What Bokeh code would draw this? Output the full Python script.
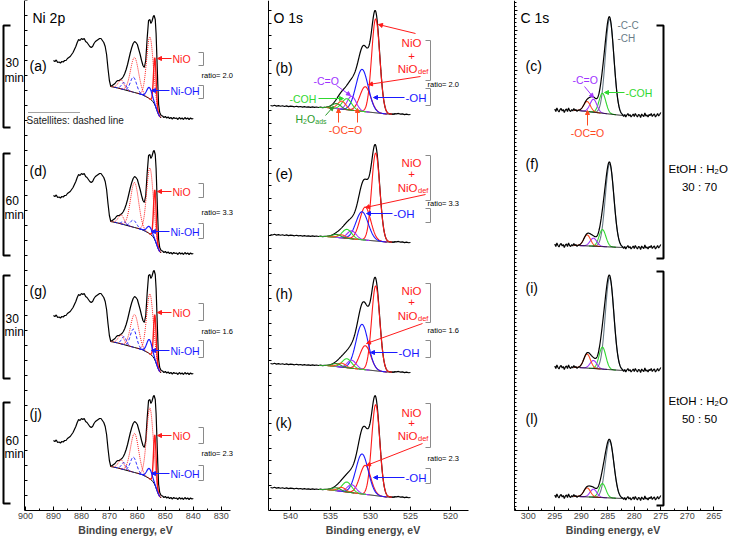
import numpy as np
from bokeh.plotting import figure
from bokeh.layouts import row
from bokeh.models import Range1d, SingleIntervalTicker, Arrow, NormalHead, CustomJSTickFormatter
from bokeh.core.properties import value
from bokeh.embed import file_html
from bokeh.resources import INLINE

FONT = "Liberation Sans"

# ===================== DATA =====================
# ---- Ni 2p: measured spectrum (same shape for a, d, g, j), a.u. above the low-BE baseline
NI_E = [890, 889.5, 889, 888.5, 888, 887.5, 887, 886.5, 886, 885.5,
        885, 884.5, 884, 883.5, 883, 882.5, 882, 881.5, 881, 880.5,
        880, 879.5, 879, 878.5, 878, 877.5, 877, 876.5, 876, 875.5,
        875, 874.5, 874, 873.5, 873, 872.5, 872, 871.5, 871, 870.5,
        870, 869.5, 869, 868.5, 868, 867.5, 867, 866.5, 866, 865.5,
        865, 864.5, 864, 863.5, 863, 862.5, 862, 861.5, 861, 860.5,
        860, 859.5, 859, 858.5, 858, 857.5, 857, 856.5, 856, 855.5,
        855.2, 854.8, 854.3, 854, 853.6, 853.3, 853, 852.7, 852.4, 852,
        851.5, 851, 850.5, 850, 849.5, 849, 848.5, 848, 847.5, 847,
        846.5, 846, 845.5, 845, 844.5, 844, 843.5, 843, 842.5, 842,
        841.5, 841, 840.5, 840]
NI_RAW = [58, 57, 58.5, 56, 56.5, 55.5, 57, 56.5, 58, 58,
          60, 61, 62, 64, 66, 69, 72, 76, 79, 78,
          80, 79, 80, 77, 76, 74, 72, 71, 72, 75,
          77, 78, 79, 80, 80, 78, 76, 72, 64, 50,
          38, 32, 33, 34, 35, 37, 38, 38, 39, 40,
          42, 45, 49, 54, 60, 66, 71, 75, 77, 76,
          74, 69, 64, 58, 53, 51, 58, 80, 98, 99,
          95, 97, 102, 103, 99, 85, 60, 35, 14, 6,
          3, 2.5, 1, 2, 0.5, 1.5, 0, 1, -0.5, 1,
          0, 0.5, -1, 1, -0.5, 0.5, -1, 1, -0.5, 0.5,
          -1, 0.5, -0.5, 0]
NI_BG_E = [869.5, 867, 865, 863, 861, 859, 858, 857, 856, 855, 854.5, 854, 853.5, 853, 852.5, 852, 851.5]
NI_BG = [32, 30.5, 29, 27.5, 26, 24.5, 23.5, 22, 20.5, 18.5, 17, 15, 12, 8, 4.5, 2, 0.5]
NI_OFFSET = [392, 257, 137, 12]            # stacking offsets (a, d, g, j)
# components: NiO, NiO, NiO sat, NiO sat, Ni-OH, Ni-OH sat, Ni-OH sat
NI_CENTERS = [853.75, 855.5, 861.0, 865.8, 855.7, 861.4, 864.8]
NI_FWHM = [1.1, 2.8, 3.4, 2.4, 2.2, 2.6, 2.0]
NI_H_A = [47, 62, 35, 9, 11, 15, 7]
NI_H_D = [50, 66, 45, 9, 7, 7, 3]
NI_H_G = [45, 60, 33, 9, 14, 18, 8]
NI_H_J = [50, 71, 39, 9, 10, 15, 7]
NI_RATIO = ["ratio= 2.0", "ratio= 3.3", "ratio= 1.6", "ratio= 2.3"]
NI_PANEL = ["(a)", "(d)", "(g)", "(j)"]
TIMES = ["30", "60", "30", "60"]

# ---- O 1s
O_NOISE_E = [542.5, 542.25, 542.0, 541.75, 541.5, 541.25, 541.0, 540.75, 540.5, 540.25,
             540.0, 539.75, 539.5, 539.25, 539.0, 538.75, 538.5, 538.25, 538.0, 537.75,
             537.5, 537.25, 537.0, 536.75, 536.5, 536.25, 536.0, 535.75, 535.5]
O_NOISE_L = [2.0, 1.5, 2.2, 1.4, 1.9, 1.2, 1.8, 1.0, 1.6, 0.9,
             1.4, 1.1, 0.7, 1.3, 0.6, 1.0, 0.4, 0.9, 0.3, 0.7,
             0.2, 0.6, 0.1, 0.5, 0.0, 0.4, -0.1, 0.2, 0.0]
O_NOISE_R_E = [527.0, 526.75, 526.5, 526.25, 526.0, 525.75, 525.5, 525.25, 525.0]
O_NOISE_R = [0.6, 0.3, 0.8, 0.2, 0.5, -0.2, 0.3, -0.3, 0.0]
O_OFFSET = [396, 268, 138, 13]             # b, e, h, k
O_BG_LEFT = [7, 6, 7, 8]
# components: NiO, NiO_def, -OH, -C=O, -COH, -OC=O, H2O_ads
O_CENTERS = [529.35, 530.65, 531.05, 532.35, 532.95, 533.6, 534.25]
O_FWHM = [1.2, 1.6, 1.8, 1.3, 1.4, 1.2, 1.3]
O_H_B = [94, 25, 42, 14, 11, 8, 5]
O_H_E = [88, 33, 28, 8, 9, 3, 3]
O_H_H = [85, 24, 45, 8, 9, 4, 3]
O_H_K = [91, 29, 40, 8, 10, 4, 3]
O_RATIO = ["ratio= 2.0", "ratio= 3.3", "ratio= 1.6", "ratio= 2.3"]
O_PANEL = ["(b)", "(e)", "(h)", "(k)"]

# ---- C 1s
C_NOISE_L_E = [295.0, 294.8, 294.6, 294.4, 294.2, 294.0, 293.8, 293.6, 293.4, 293.2,
               293.0, 292.8, 292.6, 292.4, 292.2, 292.0, 291.8, 291.6, 291.4, 291.2,
               291.0, 290.8, 290.6]
C_NOISE_L = [1.5, -1.0, 2.5, 0.0, -1.5, 1.0, 2.0, -0.5, 1.0, -2.0,
             0.5, 1.5, -1.0, 2.5, 0.0, -1.0, 1.0, -0.5, 2.0, 0.0,
             1.0, -1.0, 0.5]
C_NOISE_R_E = [282.2, 282.0, 281.8, 281.6, 281.4, 281.2, 281.0, 280.8, 280.6, 280.4,
               280.2, 280.0, 279.8, 279.6, 279.4, 279.2, 279.0, 278.8, 278.6, 278.4,
               278.2, 278.0, 277.8, 277.6, 277.4, 277.2, 277.0, 276.8, 276.6, 276.4,
               276.2, 276.0, 275.8, 275.6, 275.4, 275.2, 275.0]
C_NOISE_R = [0.5, -1.0, 1.0, -1.5, 0.5, 2.0, -0.5, 1.0, -1.5, 0.0,
             1.5, -1.0, 2.0, 0.0, -1.5, 1.0, 0.5, -2.0, 1.5, 0.0,
             -1.0, 2.5, -0.5, 0.5, -1.5, 1.0, 0.0, 2.0, -1.0, 0.5,
             1.5, -1.5, 0.0, 2.0, -0.5, 1.0, 3.0]
C_OFFSET = [395, 263, 140, 12]             # c, f, i, l
C_BG_LEFT = [5, 2, 3, 2]
# components: -C-C/-CH, -COH, -C=O, -OC=O
C_CENTERS = [284.65, 286.0, 287.7, 288.9]
C_FWHM = [1.9, 1.5, 1.5, 1.5]
C_H_C = [95, 20, 13, 10]
C_H_F = [83, 17, 8, 11]
C_H_I = [92, 22, 8, 14]
C_H_L = [57, 14, 8, 9]
C_PANEL = ["(c)", "(f)", "(i)", "(l)"]

# ===================== LAYOUT =====================
PANEL_LEFT = [0, 250, 495]
PANEL_W = [250, 245, 235]
AX_PX = [(24, 230), (268, 468), (514, 722)]
AX_E = [(900.35, 826.7), (542.75, 517.75), (302.6, 263.35)]
FRAME_H = 510
TOTAL_H = 542

RED = "#ff1a1a"; BLUE = "#1a1aff"; PURPLE = "#a033ff"; GREEN = "#30d830"
DKGREEN = "#2a9a2a"; ORANGE = "#ff4a1f"; GRAY = "#8a8a8a"; CCGRAY = "#6a7c88"


def sx(k):
    return (AX_E[k][1] - AX_E[k][0]) / (AX_PX[k][1] - AX_PX[k][0])


def X(k, px):
    return AX_E[k][0] + (px - AX_PX[k][0]) * sx(k)


def Y(py):
    return FRAME_H - py


def gauss(E, c, h, w):
    return h * np.exp(-4 * np.log(2) * ((E - c) / w) ** 2)


def bg_interp(E, bx, by):
    bx = np.asarray(bx, float); by = np.asarray(by, float)
    o = np.argsort(bx)
    return np.interp(E, bx[o], by[o])


def make_fig(k, yint, yminor, xint):
    p = figure(width=PANEL_W[k], height=TOTAL_H, output_backend="svg", toolbar_location=None,
               x_range=Range1d(X(k, PANEL_LEFT[k]), X(k, PANEL_LEFT[k] + PANEL_W[k])),
               y_range=Range1d(0, FRAME_H),
               min_border_left=0, min_border_right=0, min_border_top=0, min_border_bottom=32)
    p.title.visible = False
    p.outline_line_color = None
    p.grid.visible = False
    xa = p.xaxis[0]
    xa.bounds = (min(AX_E[k]), max(AX_E[k]))
    xa.ticker = SingleIntervalTicker(interval=xint, num_minor_ticks=2)
    xa.major_tick_in = 4; xa.major_tick_out = 0
    xa.minor_tick_in = 2; xa.minor_tick_out = 0
    xa.major_label_text_font = FONT
    xa.major_label_text_font_size = "9px"
    xa.major_label_standoff = 2
    xa.axis_label = "Binding energy, eV"
    xa.axis_label_text_font = FONT
    xa.axis_label_text_font_style = "bold"
    xa.axis_label_text_font_size = "10.5px"
    xa.axis_label_standoff = 2
    xa.axis_line_color = "black"
    ya = p.yaxis[0]
    ya.fixed_location = AX_E[k][0]
    ya.ticker = SingleIntervalTicker(interval=yint, num_minor_ticks=yminor)
    ya.formatter = CustomJSTickFormatter(code="return ''")
    ya.major_tick_in = 3; ya.major_tick_out = 0
    ya.minor_tick_in = 2; ya.minor_tick_out = 0
    ya.major_label_standoff = 0
    return p


def txt(p, k, px, py, s, size, color="black", align="left", style="normal"):
    p.text(x=[X(k, px)], y=[Y(py)], text=[s], text_font=value(FONT),
           text_font_size=value(f"{size}px"), text_color=color, text_align=align,
           text_baseline="middle", text_font_style=style)


def poly(p, k, pts, color, width=1.0, dash="solid"):
    p.line([X(k, a) for a, b in pts], [Y(b) for a, b in pts], line_color=color,
           line_width=width, line_dash=dash)


def arrow(p, k, x0, y0, x1, y1, color, size=4):
    p.add_layout(Arrow(end=NormalHead(size=size, fill_color=color, line_color=color, line_width=1),
                       x_start=X(k, x0), y_start=Y(y0), x_end=X(k, x1), y_end=Y(y1),
                       line_color=color, line_width=1))


# ===================== Ni 2p =====================
p1 = make_fig(0, 15, 0, 10)
NI_H = [NI_H_A, NI_H_D, NI_H_G, NI_H_J]
NI_STYLE = [(RED, "solid", 1.4), (RED, "1 1", 1.0), (RED, "1 1", 1.0), (RED, "1 1", 1.0),
            (BLUE, "solid", 1.2), (BLUE, "3 2", 1.0), (BLUE, "3 2", 1.0)]
for i in range(4):
    off = NI_OFFSET[i]
    p1.line(NI_E, [v + off for v in NI_RAW], line_color="black", line_width=1.2)
    p1.line(NI_BG_E, [v + off for v in NI_BG], line_color="black", line_width=1.0)
    for j, (c, w, h) in enumerate(zip(NI_CENTERS, NI_FWHM, NI_H[i])):
        E = np.linspace(c + 1.7 * w, c - 1.7 * w, 70)
        E = E[(E <= 869.5) & (E >= 851.5)]
        yv = off + bg_interp(E, NI_BG_E, NI_BG) + gauss(E, c, h, w)
        col, dash, lw = NI_STYLE[j]
        p1.line(E, yv, line_color=col, line_dash=dash, line_width=lw)

txt(p1, 0, 32, 17, "Ni 2p", 14)
NI_ANN = [
    (65, 58, 90, 75, (52, 65), (85, 98), (25, 127), 62, 77),
    (170, 191, 231, 212, (183, 197), (223, 238), (153, 255), 200, 214),
    (290, 312, 350, 331, (303, 320), (340, 357), (275, 378), 318, 331),
    (413, 435, 473, 453, (427, 443), (465, 480), (402, 503), 440, 453),
]
for i, (ly, nioy, nohy, ry, ub, lb, tb, ty, my) in enumerate(NI_ANN):
    txt(p1, 0, 29, ly, NI_PANEL[i], 14)
    txt(p1, 0, 172, nioy, "NiO", 10.5, RED)
    arrow(p1, 0, 171, nioy, 157, nioy, RED, 4)
    txt(p1, 0, 170, nohy, "Ni-OH", 10.5, BLUE)
    arrow(p1, 0, 169, nohy, 151, nohy, BLUE, 4)
    poly(p1, 0, [(198, ub[0]), (203, ub[0]), (203, ub[1]), (198, ub[1])], GRAY, 1)
    poly(p1, 0, [(198, lb[0]), (203, lb[0]), (203, lb[1]), (198, lb[1])], GRAY, 1)
    txt(p1, 0, 201, ry, NI_RATIO[i], 7.5)
    poly(p1, 0, [(10, tb[0]), (3, tb[0]), (3, tb[1]), (10, tb[1])], "black", 2)
    txt(p1, 0, 5, ty, TIMES[i], 12)
    txt(p1, 0, 4, my, "min", 12)
poly(p1, 0, [(28, 112), (80, 112)], "#444444", 1, "1 1")
txt(p1, 0, 26, 120, "Satellites: dashed line", 10, "#222222")

# ===================== O 1s =====================
p2 = make_fig(1, 12.5, 0, 5)
O_H = [O_H_B, O_H_E, O_H_H, O_H_K]
O_STYLE = [RED, RED, BLUE, PURPLE, GREEN, ORANGE, DKGREEN]
for i in range(4):
    off = O_OFFSET[i]; bl = O_BG_LEFT[i]
    bgx = [535.5, 528.0, 525.0]; bgy = [bl, 0.5, 0.0]
    Eg = np.linspace(535.5, 527.0, 240)
    bg = bg_interp(Eg, bgx, bgy)
    env = bg.copy()
    for c, w, h in zip(O_CENTERS, O_FWHM, O_H[i]):
        env = env + gauss(Eg, c, h, w)
    xs = list(O_NOISE_E) + list(Eg) + list(O_NOISE_R_E)
    ys = ([bl + n + off for n in O_NOISE_L] + list(env + off) +
          list(bg_interp(np.array(O_NOISE_R_E), bgx, bgy) + np.array(O_NOISE_R) + off))
    p2.line(xs, ys, line_color="black", line_width=1.2)
    p2.line(Eg, bg + off, line_color="black", line_width=1.0)
    for j, (c, w, h) in enumerate(zip(O_CENTERS, O_FWHM, O_H[i])):
        E = np.linspace(c + 1.7 * w, c - 1.7 * w, 70)
        yv = off + bg_interp(E, bgx, bgy) + gauss(E, c, h, w)
        p2.line(E, yv, line_color=O_STYLE[j], line_width=1.1)

txt(p2, 1, 273, 17, "O 1s", 14)
O_ANN = [
    (67, 42, 55, 68, (40, 80), (88, 105), 84, 97, 405, 373, (420, 76, 368, 84)),
    (173, 162, 173, 187, (155, 200), (208, 222), 203, 213, 393, 366, (425, 194, 365, 207)),
    (293, 290, 301, 315, (283, 322), (340, 357), 330, 352, 398, 370, (422, 323, 366, 343)),
    (422, 412, 422, 435, (403, 447), (468, 483), 458, 477, 405, 373, (422, 443, 366, 465)),
]
for i, (ly, ny, py_, dy, ub, lb, ry, ohy, ohx, ohe, dl) in enumerate(O_ANN):
    txt(p2, 1, 275, ly, O_PANEL[i], 14)
    txt(p2, 1, 411, ny, "NiO", 11.5, RED, "center")
    txt(p2, 1, 411, py_, "+", 11.5, RED, "center")
    txt(p2, 1, 417, dy, "NiO", 11.5, RED, "right")
    txt(p2, 1, 417.5, dy + 3, "def", 7.5, RED)
    poly(p2, 1, [(425, ub[0]), (430, ub[0]), (430, ub[1]), (425, ub[1])], GRAY, 1)
    poly(p2, 1, [(425, lb[0]), (430, lb[0]), (430, lb[1]), (425, lb[1])], GRAY, 1)
    txt(p2, 1, 427, ry, O_RATIO[i], 7.5)
    txt(p2, 1, ohx, ohy, "-OH", 11.5, BLUE)
    arrow(p2, 1, ohx - 1, ohy, ohe, ohy, BLUE, 4)
    arrow(p2, 1, dl[0], dl[1], dl[2], dl[3], RED, 4)
arrow(p2, 1, 415, 33, 378, 24, RED, 4)
txt(p2, 1, 313, 80, "-C=O", 10.5, PURPLE)
arrow(p2, 1, 336, 85, 350, 95, PURPLE, 4)
txt(p2, 1, 289, 98, "-COH", 10.5, GREEN)
arrow(p2, 1, 318, 98, 343, 98, GREEN, 4)
txt(p2, 1, 295, 118, "H", 10.5, DKGREEN)
txt(p2, 1, 302.6, 121, "2", 7, DKGREEN)
txt(p2, 1, 306.5, 118, "O", 10.5, DKGREEN)
txt(p2, 1, 314.8, 121, "ads", 7, DKGREEN)
arrow(p2, 1, 325, 115, 333, 106, DKGREEN, 4)
txt(p2, 1, 345, 129, "-OC=O", 10.5, ORANGE, "center")
arrow(p2, 1, 338, 122, 338, 108, ORANGE, 4)
arrow(p2, 1, 357, 122, 357, 108, ORANGE, 4)

# ===================== C 1s =====================
p3 = make_fig(2, 20, 5, 5)
C_H = [C_H_C, C_H_F, C_H_I, C_H_L]
C_STYLE = [CCGRAY, GREEN, PURPLE, ORANGE]
for i in range(4):
    off = C_OFFSET[i]; bl = C_BG_LEFT[i]
    bgx = [290.6, 282.2]; bgy = [bl, 0.0]
    Eg = np.linspace(290.6, 282.2, 200)
    bg = bg_interp(Eg, bgx, bgy)
    env = bg.copy()
    for c, w, h in zip(C_CENTERS, C_FWHM, C_H[i]):
        env = env + gauss(Eg, c, h, w)
    for j, (c, w, h) in enumerate(zip(C_CENTERS, C_FWHM, C_H[i])):
        E = np.linspace(c + 1.7 * w, c - 1.7 * w, 70)
        yv = off + bg_interp(E, bgx, bgy) + gauss(E, c, h, w)
        p3.line(E, yv, line_color=C_STYLE[j], line_width=1.1)
    xs = list(C_NOISE_L_E) + list(Eg) + list(C_NOISE_R_E)
    ys = ([bl + n + off for n in C_NOISE_L] + list(env + off) + [n + off for n in C_NOISE_R])
    p3.line(xs, ys, line_color="black", line_width=1.2)
    p3.line(Eg, bg + off, line_color="black", line_width=1.0)

txt(p3, 2, 520, 17, "C 1s", 14)
for i, ly in enumerate([65, 163, 287, 418]):
    txt(p3, 2, 525, ly, C_PANEL[i], 14)
txt(p3, 2, 617, 25, "-C-C", 10, CCGRAY)
txt(p3, 2, 617, 38, "-CH", 10, CCGRAY)
txt(p3, 2, 572, 79, "-C=O", 10.5, PURPLE)
arrow(p3, 2, 584, 86, 593, 97, PURPLE, 4)
txt(p3, 2, 625, 92, "-COH", 10.5, GREEN)
arrow(p3, 2, 624, 92, 604, 92, GREEN, 4)
txt(p3, 2, 587, 132, "-OC=O", 10.5, ORANGE, "center")
arrow(p3, 2, 587, 125, 587, 110, ORANGE, 4)
poly(p3, 2, [(656, 25), (663, 25), (663, 258), (656, 258)], "black", 2)
poly(p3, 2, [(656, 271), (663, 271), (663, 505), (656, 505)], "black", 2)
for ty, ratio in [(168, "30 : 70"), (400, "50 : 50")]:
    txt(p3, 2, 668, ty, "EtOH : H", 11.5)
    txt(p3, 2, 714, ty + 3, "2", 7.5)
    txt(p3, 2, 718.5, ty, "O", 11.5)
    txt(p3, 2, 699, ty + 18, ratio, 11.5, "black", "center")

layout = row(p1, p2, p3)
open("out.html", "w").write(file_html(layout, INLINE))
